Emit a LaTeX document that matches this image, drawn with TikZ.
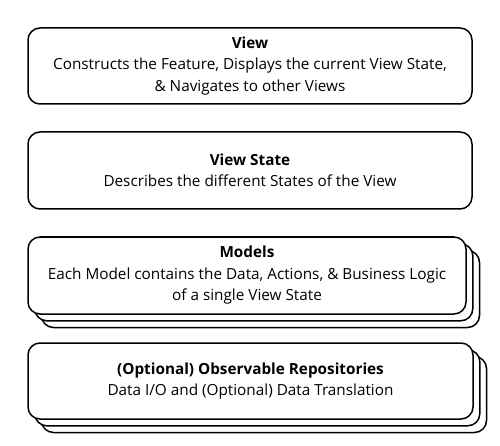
\documentclass[tikz,border=0pt]{standalone}
\usepackage{fontspec}
\setmainfont{Open Sans}
\usetikzlibrary{shadows}

\tikzset{
  layerbox/.style={draw, line width=1.5pt, rounded corners=12pt, fill=white,
    align=center, inner sep=0pt, font=\fontsize{15.3}{21.5}\selectfont},
  stackcopy/.style={copy shadow={shadow xshift=#1, shadow yshift=-#1,
    draw, fill=white, line width=1.5pt}},
  stackbox/.style={layerbox, stackcopy=13.5pt, stackcopy=6.8pt},
}

\begin{document}
\begin{tikzpicture}[x=1pt,y=-1pt]
\useasboundingbox (0,0) rectangle (500,446);

%view layer
\node[layerbox, minimum width=444pt, minimum height=76pt] (view) at (250,66)
  {\textbf{View}\\Constructs the Feature, Displays the current View State,\\\& Navigates to other Views};

%view state layer
\node[layerbox, minimum width=444pt, minimum height=77pt] (viewstate) at (250,170.5)
  {\textbf{View State}\\Describes the different States of the View};

%models, stacked
\node[stackbox, minimum width=438pt, minimum height=77pt] (models) at (247,275.5)
  {\textbf{Models}\\Each Model contains the Data, Actions, \& Business Logic\\of a single View State};

%repositories, stacked
\node[stackbox, minimum width=445pt, minimum height=76pt] (repos) at (250.5,381)
  {\textbf{(Optional) Observable Repositories}\\Data I/O and (Optional) Data Translation};
\end{tikzpicture}
\end{document}
